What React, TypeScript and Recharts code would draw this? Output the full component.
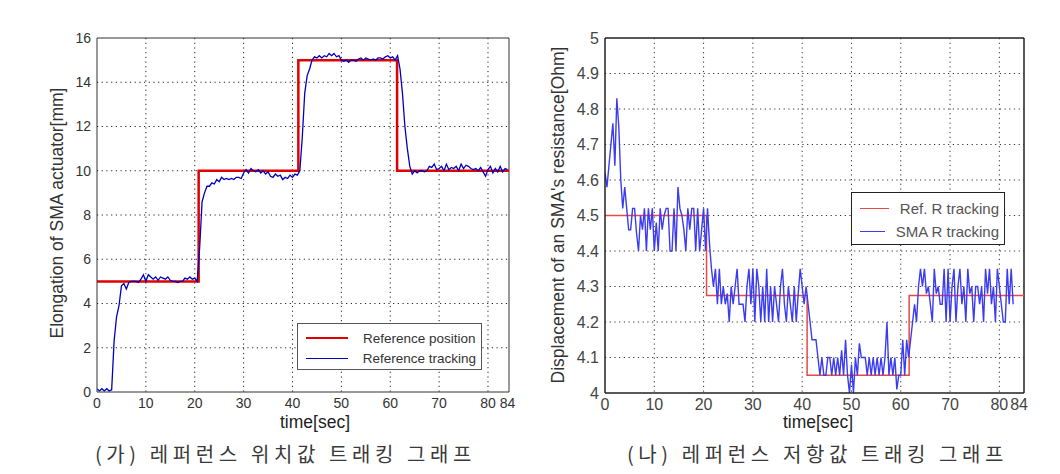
import { LineChart, Line, XAxis, YAxis, CartesianGrid, ReferenceLine, Legend } from "recharts";

// (가) position tracking, sampled every 0.5 s
const POS_DT = 0.5;
const posTracking = [
  0.15, 0.05, 0.15, 0.05, 0.15, 0.05, 0.1, 2.3, 3.4, 3.9,
  4.8, 4.9, 4.65, 4.95, 5.0, 5.0, 5.0, 4.95, 5.1, 5.3,
  5.0, 5.3, 5.2, 5.1, 5.2, 5.05, 5.2, 5.15, 5.1, 5.2,
  5.05, 5.0, 5.0, 4.95, 5.0, 5.0, 5.15, 5.1, 5.2, 5.1,
  5.15, 5.0, 6.5, 8.6, 9.0, 9.3, 9.3, 9.45, 9.4, 9.6,
  9.5, 9.7, 9.6, 9.65, 9.6, 9.65, 9.6, 9.7, 9.7, 9.65,
  9.9, 10.05, 9.9, 10.1, 10.0, 9.95, 10.05, 9.9, 10.0, 9.85,
  9.95, 9.75, 9.7, 9.85, 9.75, 9.8, 9.6, 9.7, 9.65, 9.8,
  9.7, 9.85, 9.8, 10.0, 11.5, 13.5, 14.3, 14.6, 15.0, 15.15,
  15.1, 15.2, 15.1, 15.2, 15.15, 15.3, 15.2, 15.3, 15.15, 15.2,
  15.0, 14.95, 15.0, 14.9, 15.0, 15.0, 14.95, 15.05, 15.1, 15.0,
  15.1, 15.05, 15.0, 15.05, 15.0, 15.1, 15.1, 15.05, 15.15, 15.2,
  15.1, 15.15, 15.0, 15.2, 14.6, 13.5, 12.0, 11.0, 10.2, 9.85,
  10.0, 9.9, 10.0, 10.0, 9.95, 10.0, 10.2, 10.15, 10.3, 10.05,
  10.1, 10.2, 10.0, 10.3, 10.05, 10.15, 10.1, 10.2, 10.0, 10.3,
  10.1, 10.25, 10.2, 10.1, 10.05, 10.1, 10.0, 10.15, 9.95, 9.75,
  10.05, 10.2, 9.9, 10.1, 9.95, 10.2, 9.95, 10.1, 10.05,
];
const posRefT = [0, 20.8, 20.8, 41.2, 41.2, 61.4, 61.4, 84.3];
const posRefV = [5, 5, 10, 10, 15, 15, 10, 10];
const posXTicks = [0, 10, 20, 30, 40, 50, 60, 70, 80, 84];
const posYTicks = [0, 2, 4, 6, 8, 10, 12, 14, 16];

// (나) resistance tracking, sampled every 0.4 s
const RES_DT = 0.4;
const resTracking = [
  4.62, 4.58, 4.64, 4.7, 4.76, 4.64, 4.83, 4.75, 4.6, 4.52,
  4.58, 4.52, 4.46, 4.46, 4.52, 4.52, 4.45, 4.4, 4.5, 4.46,
  4.52, 4.4, 4.52, 4.46, 4.52, 4.4, 4.48, 4.4, 4.52, 4.46,
  4.5, 4.52, 4.52, 4.4, 4.4, 4.52, 4.4, 4.58, 4.52, 4.5,
  4.46, 4.4, 4.52, 4.46, 4.52, 4.52, 4.4, 4.52, 4.4, 4.46,
  4.52, 4.4, 4.52, 4.42, 4.35, 4.3, 4.35, 4.25, 4.35, 4.25,
  4.3, 4.25, 4.28, 4.2, 4.3, 4.25, 4.3, 4.35, 4.25, 4.25,
  4.25, 4.2, 4.3, 4.35, 4.25, 4.35, 4.2, 4.35, 4.3, 4.2,
  4.3, 4.2, 4.35, 4.2, 4.3, 4.2, 4.3, 4.25, 4.2, 4.3,
  4.35, 4.25, 4.2, 4.3, 4.25, 4.2, 4.3, 4.2, 4.28, 4.35,
  4.3, 4.25, 4.3, 4.25, 4.2, 4.15, 4.15, 4.15, 4.1, 4.05,
  4.1, 4.05, 4.05, 4.1, 4.1, 4.05, 4.1, 4.05, 4.1, 4.05,
  4.12, 4.05, 4.15, 4.05, 4.0, 4.08, 4.0, 4.1, 4.05, 4.14,
  4.1, 4.1, 4.1, 4.05, 4.1, 4.05, 4.1, 4.05, 4.1, 4.05,
  4.1, 4.05, 4.1, 4.2, 4.05, 4.1, 4.05, 4.1, 4.01, 4.05,
  4.05, 4.15, 4.05, 4.15, 4.1, 4.15, 4.2, 4.25, 4.2, 4.3,
  4.35, 4.3, 4.35, 4.28, 4.3, 4.25, 4.2, 4.35, 4.28, 4.3,
  4.25, 4.25, 4.35, 4.2, 4.35, 4.2, 4.3, 4.35, 4.2, 4.3,
  4.35, 4.25, 4.3, 4.2, 4.35, 4.28, 4.3, 4.2, 4.3, 4.3,
  4.25, 4.3, 4.2, 4.35, 4.28, 4.35, 4.25, 4.3, 4.2, 4.35,
  4.3, 4.25, 4.2, 4.2, 4.35, 4.25, 4.35, 4.25,
];
const resRefT = [0, 20.6, 20.6, 41.0, 41.0, 61.7, 61.7, 85];
const resRefV = [4.5, 4.5, 4.275, 4.275, 4.05, 4.05, 4.275, 4.275];
const resXTicks = [0, 10, 20, 30, 40, 50, 60, 70, 80, 84];
const resYTicks = [4, 4.1, 4.2, 4.3, 4.4, 4.5, 4.6, 4.7, 4.8, 4.9, 5];

const gridX = [10, 20, 30, 40, 50, 60, 70, 80];

const toSeries = (vals: number[], dt: number) => vals.map((v, i) => ({ t: +(i * dt).toFixed(2), v }));
const toPairs = (ts: number[], vs: number[]) => ts.map((t, i) => ({ t, v: vs[i] }));

const SANS = '"Liberation Sans", Arial, sans-serif';

function BoxLegend(props: any) {
  const { payload, lineW, gap, rowH, fontSize, color, border, padTop } = props;
  return (
    <div style={{ border, background: "#fff", padding: `${padTop}px 5px 1px 8px`, fontFamily: SANS }}>
      {(payload || []).map((e: any) => (
        <div key={e.value} style={{ display: "flex", alignItems: "center", height: rowH }}>
          <div style={{ width: lineW, height: 0, borderTop: `${e.payload?.strokeWidth ?? 1}px solid ${e.color}` }} />
          <span style={{ marginLeft: gap, fontSize, color, whiteSpace: "nowrap" }}>{e.value}</span>
        </div>
      ))}
    </div>
  );
}

function Title({ x, y, text, rotate, size, color }: { x: number; y: number; text: string; rotate?: boolean; size: number; color: string }) {
  return (
    <div
      style={{
        position: "absolute",
        left: x,
        top: y,
        transform: `translate(-50%, -50%)${rotate ? " rotate(-90deg)" : ""}`,
        whiteSpace: "nowrap",
        fontFamily: SANS,
        fontSize: size,
        color,
      }}
    >
      {text}
    </div>
  );
}

function Caption({ x, text }: { x: number; text: string }) {
  return (
    <div
      style={{
        position: "absolute",
        left: x,
        top: 439,
        fontFamily: '"Noto Sans CJK KR", serif',
        fontSize: 20,
        letterSpacing: 4.6,
        color: "#3a3a3a",
        whiteSpace: "nowrap",
      }}
    >
      {text}
    </div>
  );
}

export default function App() {
  const posData = toSeries(posTracking, POS_DT);
  const posRef = toPairs(posRefT, posRefV);
  const resData = toSeries(resTracking, RES_DT);
  const resRef = toPairs(resRefT, resRefV);

  const tickStyleL = { fontSize: 14, fill: "#333", fontFamily: SANS };
  const tickStyleR = { fontSize: 16, fill: "#444", fontFamily: SANS };

  return (
    <div style={{ position: "absolute", left: 0, top: 0, width: 1060, height: 474, background: "#fff" }}>
      <div style={{ position: "absolute", left: 0, top: 0 }}>
        <LineChart width={530} height={474} margin={{ top: 38, right: 21, bottom: 52, left: 57 }}>
          <CartesianGrid stroke="#222" strokeDasharray="1.2 3.5" verticalValues={gridX} horizontalValues={posYTicks.slice(1, -1)} />
          <XAxis
            dataKey="t"
            type="number"
            domain={[0, 84.3]}
            ticks={posXTicks}
            interval={0}
            allowDataOverflow
            height={30}
            tickLine={false}
            tickSize={0}
            tickMargin={6}
            axisLine={{ stroke: "#333" }}
            tick={tickStyleL}
          />
          <YAxis
            dataKey="v"
            type="number"
            domain={[0, 16]}
            ticks={posYTicks}
            interval={0}
            width={40}
            tickLine={false}
            tickSize={0}
            tickMargin={6}
            axisLine={{ stroke: "#333" }}
            tick={tickStyleL}
          />
          <ReferenceLine y={16} stroke="#333" />
          <ReferenceLine x={84.3} stroke="#333" />
          <Line data={posRef} dataKey="v" name="Reference position" stroke="#e00000" strokeWidth={2.5} dot={false} isAnimationActive={false} />
          <Line data={posData} dataKey="v" name="Reference tracking" stroke="#0000c0" strokeWidth={1.3} dot={false} isAnimationActive={false} />
          <Legend
            layout="vertical"
            align="center"
            verticalAlign="middle"
            wrapperStyle={{ left: 297, top: 323, width: 185 }}
            content={(p: any) => (
              <BoxLegend {...p} lineW={42} gap={15} rowH={20} fontSize={13.5} color="#333" border="1.5px solid #555" padTop={4} />
            )}
          />
        </LineChart>
      </div>

      <div style={{ position: "absolute", left: 530, top: 0 }}>
        <LineChart width={530} height={474} margin={{ top: 38, right: 36, bottom: 51, left: 35 }}>
          <CartesianGrid stroke="#333" strokeDasharray="1.2 3.5" verticalValues={gridX} horizontalValues={resYTicks.slice(1, -1)} />
          <XAxis
            dataKey="t"
            type="number"
            domain={[0, 85]}
            ticks={resXTicks}
            interval={0}
            allowDataOverflow
            height={30}
            tickLine={false}
            tickSize={0}
            tickMargin={6}
            axisLine={{ stroke: "#222", strokeWidth: 1.5 }}
            tick={tickStyleR}
          />
          <YAxis
            dataKey="v"
            type="number"
            domain={[4, 5]}
            ticks={resYTicks}
            interval={0}
            allowDataOverflow
            width={40}
            tickLine={false}
            tickSize={0}
            tickMargin={6}
            axisLine={{ stroke: "#222", strokeWidth: 1.5 }}
            tick={tickStyleR}
          />
          <ReferenceLine y={5} stroke="#222" strokeWidth={1.5} />
          <ReferenceLine x={85} stroke="#222" strokeWidth={1.5} />
          <Line data={resRef} dataKey="v" name="Ref. R tracking" stroke="#e84848" strokeWidth={1.5} dot={false} isAnimationActive={false} />
          <Line data={resData} dataKey="v" name="SMA R tracking" stroke="#3b3bf0" strokeWidth={1.4} dot={false} isAnimationActive={false} />
          <Legend
            layout="vertical"
            align="center"
            verticalAlign="middle"
            wrapperStyle={{ left: 321, top: 192, width: 154 }}
            content={(p: any) => (
              <BoxLegend {...p} lineW={31} gap={11} rowH={23} fontSize={15} color="#555" border="1.5px solid #222" padTop={4} />
            )}
          />
        </LineChart>
      </div>

      <Title x={57} y={213} text="Elongation of SMA actuator[mm]" rotate size={17.5} color="#333" />
      <Title x={315} y={422} text="time[sec]" size={17.5} color="#222" />
      <Title x={558} y={215} text="Displacement of an SMA's resistance[Ohm]" rotate size={17.5} color="#333" />
      <Title x={818} y={422} text="time[sec]" size={17.5} color="#222" />

      <Caption x={95} text="(가) 레퍼런스 위치값 트래킹 그래프" />
      <Caption x={627} text="(나) 레퍼런스 저항값 트래킹 그래프" />
    </div>
  );
}
